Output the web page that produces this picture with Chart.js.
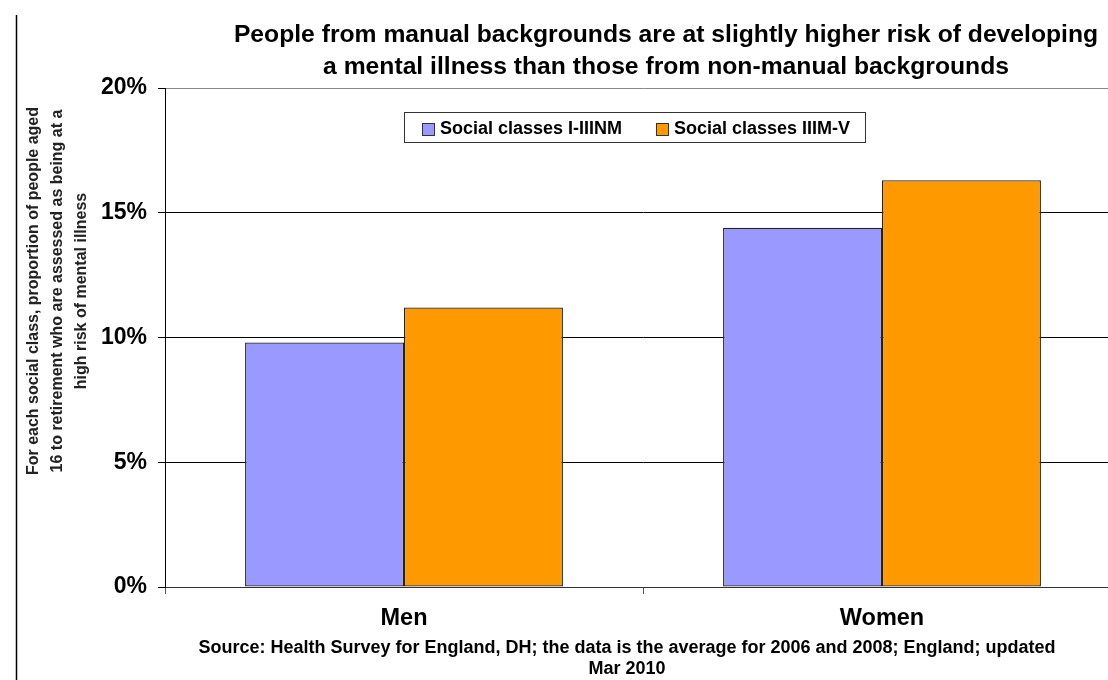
<!DOCTYPE html>
<html>
<head>
<meta charset="utf-8">
<script src="https://cdn.jsdelivr.net/npm/chart.js@4/dist/chart.umd.min.js"></script>
<style>
  body { margin: 0; background: #fff; overflow: hidden; }
  #wrap { position: relative; width: 1108px; height: 680px; overflow: hidden; }
</style>
</head>
<body>
<div id="wrap"><canvas id="chart" width="1125" height="680"></canvas></div>
<script>
// values (percent)
const categories = ['Men', 'Women'];
const nonManual = [9.8, 14.4];
const manual = [11.2, 16.3];
const seriesNames = ['Social classes I-IIINM', 'Social classes IIIM-V'];

const titleLines = [
  'People from manual backgrounds are at slightly higher risk of developing',
  'a mental illness than those from non-manual backgrounds'
];
const yTitleLines = [
  'For each social class, proportion of people aged',
  '16 to retirement who are assessed as being at a',
  'high risk of mental illness'
];
const sourceLines = [
  'Source: Health Survey for England, DH; the data is the average for 2006 and 2008; England; updated',
  'Mar 2010'
];

const FONT = '"Liberation Sans", Arial, sans-serif';

// draws title, rotated y title, source note, frame line and in-plot legend
const decorations = {
  id: 'decorations',
  afterDraw(chart) {
    const ctx = chart.ctx;
    ctx.save();

    // frame line on the left
    ctx.strokeStyle = '#000';
    ctx.lineWidth = 1.5;
    ctx.beginPath();
    ctx.moveTo(16.5, 15);
    ctx.lineTo(16.5, 680);
    ctx.stroke();

    // title
    ctx.fillStyle = '#000';
    ctx.textAlign = 'center';
    ctx.textBaseline = 'middle';
    ctx.font = 'bold 24.7px ' + FONT;
    titleLines.forEach((t, i) => ctx.fillText(t, 666, 35 + i * 32));

    // y axis title
    ctx.save();
    ctx.translate(0, 291);
    ctx.rotate(-Math.PI / 2);
    ctx.fillStyle = '#222';
    ctx.font = 'bold 16px ' + FONT;
    yTitleLines.forEach((t, i) => ctx.fillText(t, 0, 34 + i * 24));
    ctx.restore();

    // source note
    ctx.fillStyle = '#000';
    ctx.font = 'bold 18px ' + FONT;
    sourceLines.forEach((t, i) => ctx.fillText(t, 627, 648 + i * 21));

    // legend box
    const box = { x: 404.5, y: 112.5, w: 461, h: 30 };
    ctx.fillStyle = '#fff';
    ctx.fillRect(box.x, box.y, box.w, box.h);
    ctx.strokeStyle = '#333';
    ctx.lineWidth = 1;
    ctx.strokeRect(box.x, box.y, box.w, box.h);
    const itemX = [422, 656];
    ctx.font = 'bold 18px ' + FONT;
    ctx.textAlign = 'left';
    chart.data.datasets.forEach((ds, i) => {
      ctx.fillStyle = ds.backgroundColor;
      ctx.fillRect(itemX[i] + 0.5, 123.5, 12, 12);
      ctx.strokeStyle = '#333';
      ctx.strokeRect(itemX[i] + 0.5, 123.5, 12, 12);
      ctx.fillStyle = '#000';
      ctx.fillText(ds.label, itemX[i] + 18, 129);
    });

    ctx.restore();
  }
};

new Chart(document.getElementById('chart'), {
  type: 'bar',
  data: {
    labels: categories,
    datasets: [
      {
        label: seriesNames[0],
        data: nonManual,
        backgroundColor: '#9999FF',
        borderColor: '#222',
        borderWidth: 1.3,
        borderSkipped: false
      },
      {
        label: seriesNames[1],
        data: manual,
        backgroundColor: '#FF9900',
        borderColor: '#222',
        borderWidth: 1.3,
        borderSkipped: false
      }
    ]
  },
  options: {
    responsive: false,
    animation: false,
    layout: { padding: { top: 88, right: 4, bottom: 0, left: 0 } },
    datasets: {
      bar: { categoryPercentage: 0.665, barPercentage: 1.0 }
    },
    plugins: {
      legend: { display: false },
      title: { display: false },
      tooltip: { enabled: false }
    },
    scales: {
      x: {
        afterFit(scale) { scale.height = 93; },
        grid: {
          drawOnChartArea: false,
          drawTicks: true,
          tickLength: 7,
          color: '#555'
        },
        border: { display: true, color: '#333' },
        ticks: {
          color: '#000',
          padding: 10,
          font: { family: FONT, size: 23.5, weight: 'bold' }
        }
      },
      y: {
        min: 0,
        max: 20,
        afterFit(scale) { scale.width = 165; },
        grid: {
          color: (c) => (c.tick && c.tick.value === 20 ? '#888' : '#000'),
          tickColor: '#000',
          tickLength: 7
        },
        border: { display: true, color: '#000' },
        ticks: {
          stepSize: 5,
          color: '#000',
          padding: 11,
          font: { family: FONT, size: 23, weight: 'bold' },
          callback: (v) => v + '%'
        }
      }
    }
  },
  plugins: [decorations]
});
</script>
</body>
</html>
